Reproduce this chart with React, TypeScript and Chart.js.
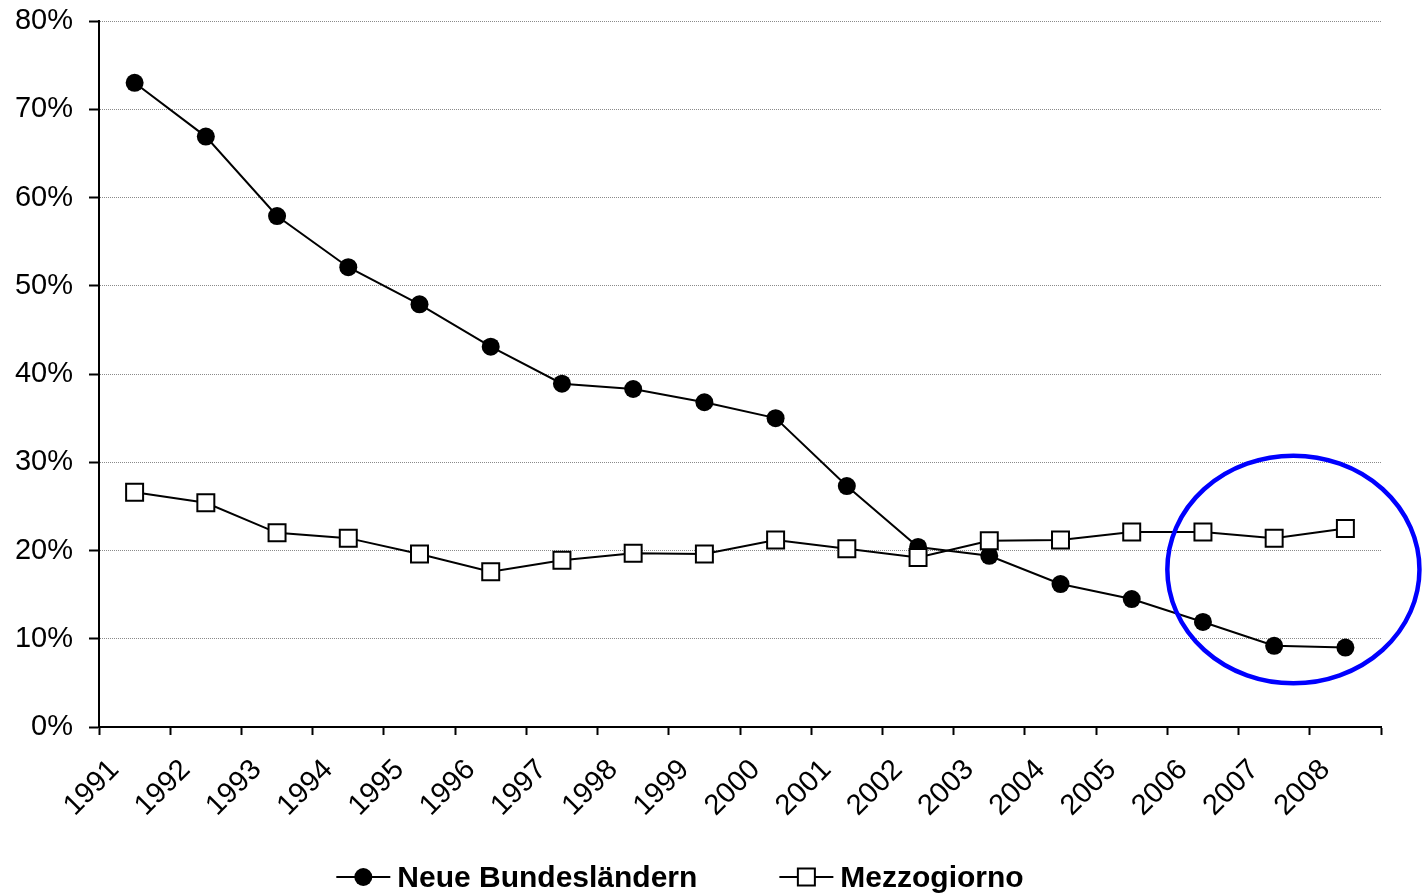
import React, { useEffect, useRef } from 'react';
import { Chart, registerables } from 'chart.js';

Chart.register(...registerables);

// Share of the population (%), 1991–2008
const years = ['1991', '1992', '1993', '1994', '1995', '1996', '1997', '1998', '1999',
  '2000', '2001', '2002', '2003', '2004', '2005', '2006', '2007', '2008'];
const neueBundeslaender = [73.0, 66.9, 57.9, 52.1, 47.9, 43.1, 38.9, 38.3, 36.8,
  35.0, 27.3, 20.4, 19.4, 16.2, 14.5, 11.9, 9.2, 9.0];
const mezzogiorno = [26.6, 25.4, 22.0, 21.4, 19.6, 17.6, 18.9, 19.7, 19.6,
  21.2, 20.2, 19.2, 21.1, 21.2, 22.1, 22.1, 21.4, 22.5];
const seriesNames = ['Neue Bundesländern', 'Mezzogiorno'];
const yMin = 0;
const yMax = 80;
const yStep = 10;

// Highlight ring around the most recent years (category index / percent units)
const highlightCenterIndex = 16.27;
const highlightCenterValue = 17.85;
const highlightRadiusIndex = 1.77;
const highlightRadiusValue = 12.9;

const FONT = '"Liberation Sans", Arial, Helvetica, sans-serif';

const highlightPlugin = {
  id: 'highlightRing',
  afterDatasetsDraw(chart: any) {
    const { ctx, scales } = chart;
    const x = scales.x;
    const y = scales.y;
    const cx = x.getPixelForValue(highlightCenterIndex);
    const cy = y.getPixelForValue(highlightCenterValue);
    const rx = x.getPixelForValue(highlightCenterIndex + highlightRadiusIndex) - cx;
    const ry = cy - y.getPixelForValue(highlightCenterValue + highlightRadiusValue);
    ctx.save();
    ctx.beginPath();
    ctx.ellipse(cx, cy, rx, ry, 0, 0, Math.PI * 2);
    ctx.strokeStyle = '#0000ff';
    ctx.lineWidth = 4.5;
    ctx.stroke();
    ctx.restore();
  },
};

const lineLegendPlugin = {
  id: 'lineLegend',
  afterDraw(chart: any) {
    const { ctx } = chart;
    const markerW = 54;
    const gapText = 7;
    const gapItems = 82;
    ctx.save();
    ctx.font = `bold 30px ${FONT}`;
    const items = chart.data.datasets.map((ds: any) => ({
      label: ds.label as string,
      style: ds.pointStyle as string,
      w: ctx.measureText(ds.label).width,
    }));
    const total = items.reduce((s: number, it: any) => s + markerW + gapText + it.w, 0)
      + gapItems * (items.length - 1);
    let x = chart.width / 2 - 31 - total / 2;
    const midY = chart.height - 16;
    const baseY = chart.height - 6;
    for (const it of items) {
      ctx.strokeStyle = '#000';
      ctx.lineWidth = 2;
      ctx.beginPath();
      ctx.moveTo(x, midY);
      ctx.lineTo(x + markerW, midY);
      ctx.stroke();
      const mx = x + markerW / 2;
      if (it.style === 'circle') {
        ctx.beginPath();
        ctx.arc(mx, midY, 9, 0, Math.PI * 2);
        ctx.fillStyle = '#000';
        ctx.fill();
      } else {
        ctx.fillStyle = '#fff';
        ctx.fillRect(mx - 8.5, midY - 8.5, 17, 17);
        ctx.lineWidth = 2;
        ctx.strokeRect(mx - 8.5, midY - 8.5, 17, 17);
      }
      ctx.fillStyle = '#000';
      ctx.textAlign = 'left';
      ctx.textBaseline = 'alphabetic';
      ctx.fillText(it.label, x + markerW + gapText, baseY);
      x += markerW + gapText + it.w + gapItems;
    }
    ctx.restore();
  },
};

function LineChart() {
  const canvasRef = useRef<HTMLCanvasElement | null>(null);

  useEffect(() => {
    const canvas = canvasRef.current;
    if (!canvas) return;
    const chart = new Chart(canvas, {
      type: 'line',
      data: {
        labels: years,
        datasets: [
          {
            label: seriesNames[0],
            data: neueBundeslaender,
            borderColor: '#000',
            borderWidth: 2,
            backgroundColor: '#000',
            pointStyle: 'circle',
            pointRadius: 9,
            pointBorderWidth: 0,
            pointBackgroundColor: '#000',
            tension: 0,
            order: 1,
          },
          {
            label: seriesNames[1],
            data: mezzogiorno,
            borderColor: '#000',
            borderWidth: 2,
            backgroundColor: '#fff',
            pointStyle: 'rect',
            pointRadius: 12,
            pointBorderWidth: 2,
            pointBorderColor: '#000',
            pointBackgroundColor: '#fff',
            tension: 0,
            order: 0,
          },
        ],
      },
      options: {
        responsive: true,
        maintainAspectRatio: false,
        animation: false,
        events: [],
        layout: { padding: { top: 21, right: 41, bottom: 40, left: 0 } },
        plugins: {
          legend: { display: false },
          tooltip: { enabled: false },
          title: { display: false },
        },
        scales: {
          x: {
            type: 'category',
            offset: true,
            grid: {
              display: true,
              offset: true,
              drawOnChartArea: false,
              drawTicks: true,
              tickLength: 8,
              tickColor: '#000',
              tickWidth: 2,
            },
            border: { display: true, color: '#000', width: 2 },
            ticks: {
              autoSkip: false,
              minRotation: 45,
              maxRotation: 45,
              padding: 18,
              labelOffset: -20,
              color: '#000',
              font: { family: FONT, size: 29 },
            },
            afterFit(scale: any) {
              scale.height = 126;
              scale.paddingLeft = 0;
              scale.paddingRight = 0;
              scale.paddingTop = 0;
              scale.paddingBottom = 0;
            },
          },
          y: {
            min: yMin,
            max: yMax,
            grid: {
              color: '#8a8a8a',
              lineWidth: 1,
              drawTicks: true,
              tickLength: 10,
              tickColor: '#000',
              tickWidth: 2,
            },
            border: { display: true, color: '#000', width: 2, dash: [1, 1] },
            ticks: {
              stepSize: yStep,
              padding: 16,
              color: '#000',
              font: { family: FONT, size: 29 },
              callback: (v: any) => `${v}%`,
            },
            afterFit(scale: any) {
              scale.width = 99;
              scale.paddingLeft = 0;
              scale.paddingRight = 0;
              scale.paddingTop = 0;
              scale.paddingBottom = 0;
            },
          },
        },
      },
      plugins: [highlightPlugin, lineLegendPlugin],
    });
    return () => chart.destroy();
  }, []);

  return <canvas ref={canvasRef} />;
}

export default function App() {
  return (
    <div style={{ position: 'absolute', left: 0, top: 0, width: 1422, height: 893, background: '#fff' }}>
      <LineChart />
    </div>
  );
}
